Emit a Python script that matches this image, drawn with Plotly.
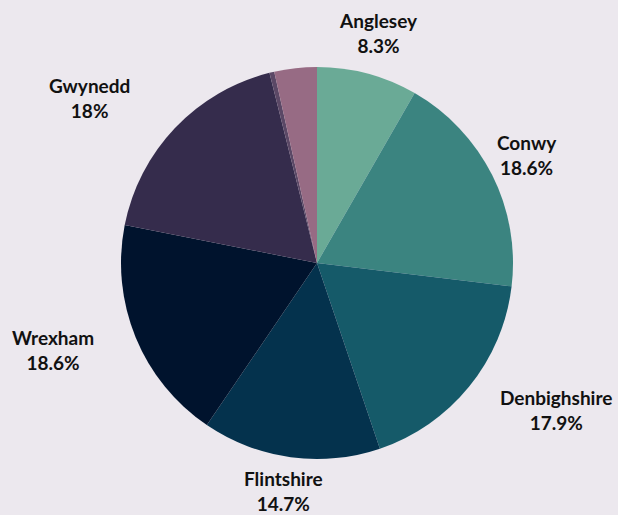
import math

import plotly.graph_objects as go

# Share of cases by county (%)
counties = ["Anglesey", "Conwy", "Denbighshire", "Flintshire", "Wrexham", "Gwynedd", "Out of area", "Unknown"]
shares = [8.3, 18.6, 17.9, 14.7, 18.6, 18.0, 0.4, 3.5]
colors = ["#6aaa96", "#3b8480", "#155a69", "#04324d", "#00132d", "#352c4c", "#5b4866", "#976b84"]
show_label = [True, True, True, True, True, True, False, False]

# label nudges in px (x right, y up), layout only
label_nudge = [(3, 12), (8, 7), (64, -5), (-3, -4), (-55, -1), (-64, 9)]

W, H = 618, 515
CX, CY, R = 317, 263, 196  # pie centre / radius in px
GAP = 30

fig = go.Figure(
    go.Pie(
        labels=counties,
        values=shares,
        textinfo="none",
        sort=False,
        direction="clockwise",
        rotation=0,
        marker=dict(colors=colors, line=dict(width=0)),
        domain=dict(x=[(CX - R) / W, (CX + R) / W], y=[(H - CY - R) / H, (H - CY + R) / H]),
        showlegend=False,
        hoverinfo="label+percent",
    )
)

# labels outside the slices, placed along each slice's mid angle
total = sum(shares)
cum = 0
k = 0
for name, share, keep in zip(counties, shares, show_label):
    mid = (cum + share / 2) / total * 2 * math.pi
    cum += share
    if not keep:
        continue
    px = CX + (R + GAP) * math.sin(mid)
    py = CY - (R + GAP) * math.cos(mid)
    dx, dy = label_nudge[k]
    k += 1
    fig.add_annotation(
        text=f"{name}<br>{share:g}%",
        xref="paper",
        yref="paper",
        x=px / W,
        y=1 - py / H,
        xshift=dx,
        yshift=dy,
        xanchor="center",
        yanchor="middle",
        showarrow=False,
        align="center",
        font=dict(family="Lato", size=19, color="#111111", weight="bold"),
    )

fig.update_layout(
    width=W,
    height=H,
    margin=dict(l=0, r=0, t=0, b=0),
    paper_bgcolor="#ece8ee",
    plot_bgcolor="#ece8ee",
)

fig.write_html(
    "out.html",
    config={"displayModeBar": False},
    post_script="document.body.style.margin='0';",
)
